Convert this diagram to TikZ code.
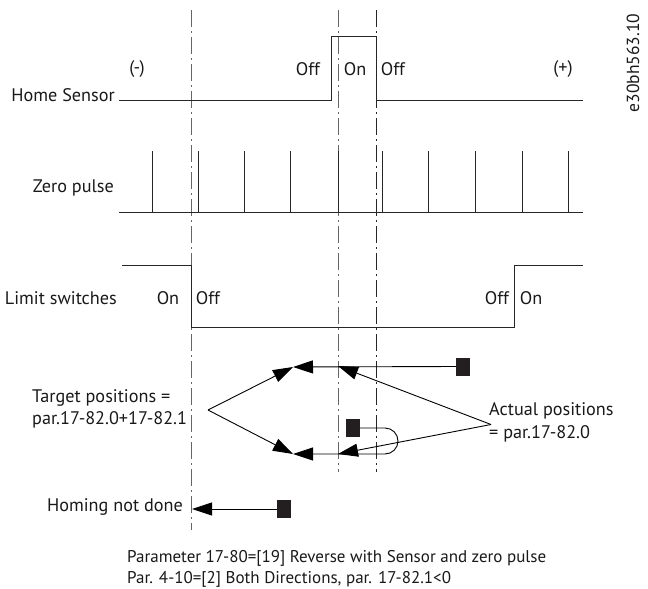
\documentclass[tikz,border=0pt]{standalone}
\usepackage{fontspec}
\setmainfont{PT Sans}
\usetikzlibrary{arrows.meta}
\definecolor{sqdark}{HTML}{231F20}
\tikzset{
  signal/.style={line width=1pt,black!85},
  guide/.style={line width=1pt,black!60,dash pattern=on 17pt off 4pt on 2pt off 4pt},
  guidethin/.style={line width=0.8pt,black!85,dash pattern=on 17pt off 4pt on 2pt off 4pt},
  pointer/.style={line width=0.9pt,-{Triangle[length=20pt,width=13pt]}},
  marker/.style={fill=sqdark,draw=none,minimum width=14pt,minimum height=18pt,inner sep=0pt},
  lbl/.style={font=\fontsize{18.2}{22.5}\selectfont,inner sep=0pt,text=black!90},
}
\begin{document}
\begin{tikzpicture}[x=1pt,y=-1pt]
  \useasboundingbox (0,0) rectangle (648,589);
  % guides
  \draw[guide] (191,10) -- (191,530);
  \draw[guide] (338,10) -- (338,472);
  \draw[guidethin] (376,10) -- (376,472);
  % home sensor
  \draw[signal] (119,100.7) -- (331.5,100.7) -- (331.5,36.7) -- (376,36.7) -- (376,100.7) -- (583,100.7);
  \node[lbl,anchor=east] (home) at (115,95) {Home Sensor};
  \node[lbl] (minus) at (137,69) {(-)};
  \node[lbl] (plus) at (563,69) {(+)};
  \node[lbl] (offa) at (308,69) {Off};
  \node[lbl] (ona) at (355,69) {On};
  \node[lbl] (offb) at (393,69) {Off};
  % zero pulse
  \draw[signal] (119,212) -- (583,212);
  \foreach \x in {152,198,244,290,338,382,428,475,522,568}{\draw[signal] (\x,151) -- (\x,212);}
  \node[lbl,anchor=east] (zero) at (114,188) {Zero pulse};
  % limit switches
  \draw[signal] (122,265) -- (191,265) -- (191,327) -- (514,327) -- (514,265) -- (583,265);
  \node[lbl,anchor=east] (limit) at (117,298) {Limit switches};
  \node[lbl] (onb) at (168,298) {On};
  \node[lbl] (offc) at (208,298) {Off};
  \node[lbl] (offd) at (497,298) {Off};
  \node[lbl] (onc) at (531,298) {On};
  % positions
  \coordinate (target) at (208,410);
  \coordinate (tipup) at (293,367);
  \coordinate (tipdown) at (293,454);
  \coordinate (actual) at (491,424.5);
  \coordinate (tipa) at (338,366);
  \coordinate (tipb) at (338,454);
  \node[marker] (sqa) at (463,366.5) {};
  \node[marker] (sqb) at (353,428) {};
  \node[marker] (sqc) at (284,509) {};
  \coordinate (tiphome) at (192,509);
  \draw[pointer] (target) -- (tipup);
  \draw[pointer] (target) -- (tipdown);
  \draw[pointer] (sqa.west) -- (tipup);
  \draw[pointer] (actual) -- (tipa);
  \draw[pointer] (actual) -- (tipb);
  \draw[pointer] (sqb.east) -- (385,428) arc[start angle=-90,end angle=90,radius=13,y=-1pt] -- (tipdown);
  \draw[pointer] (sqc.west) -- (tiphome);
  \node[lbl,align=left,anchor=west] (targettxt) at (32,409) {Target positions =\\par.17-82.0+17-82.1};
  \node[lbl,align=left,anchor=west] (actualtxt) at (489,422.5) {Actual positions\\= par.17-82.0};
  \node[lbl,anchor=east] (homing) at (183,507) {Homing not done};
  \node[lbl,align=left,anchor=west,font=\fontsize{17}{21}\selectfont] (note) at (127,569) {Parameter 17-80=[19] Reverse with Sensor and zero pulse\\Par. 4-10=[2] Both Directions, par. 17-82.1<0};
  \node[lbl,rotate=90,font=\fontsize{17.5}{21}\selectfont] (code) at (633,63) {e30bh563.10};
\end{tikzpicture}
\end{document}
